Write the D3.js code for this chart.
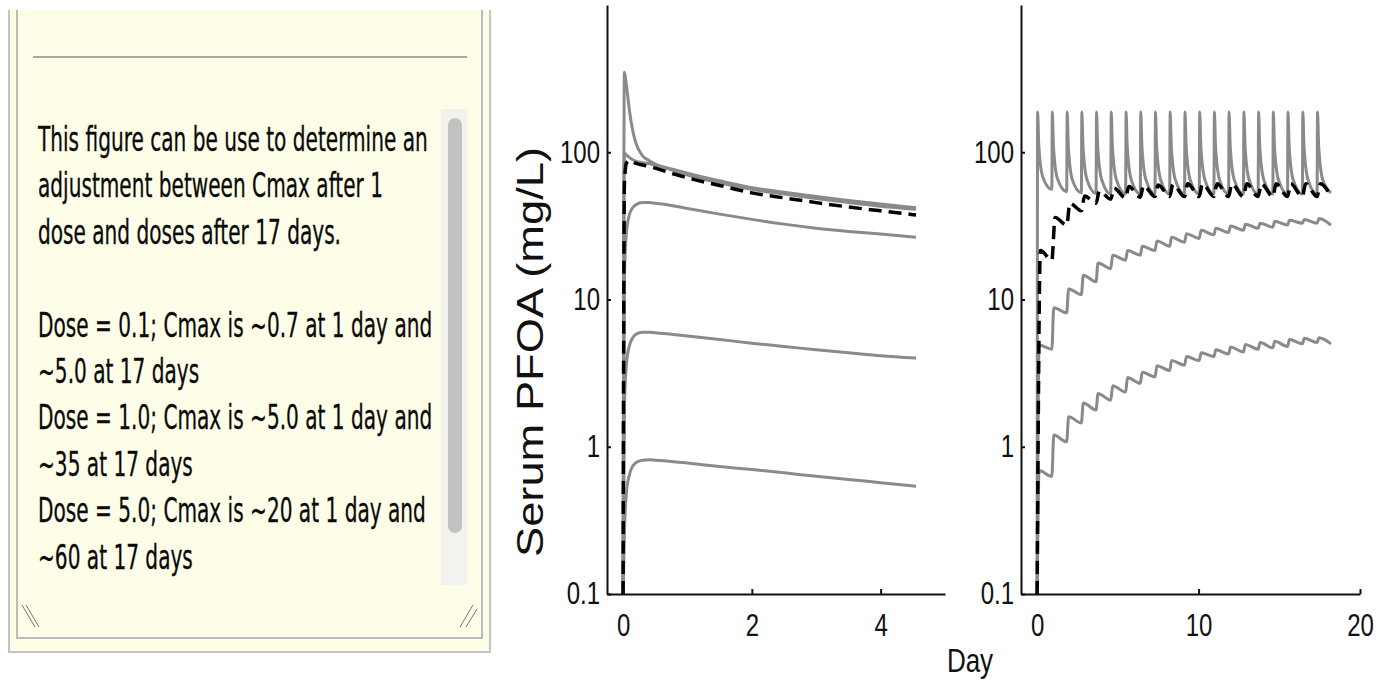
<!DOCTYPE html>
<html>
<head>
<meta charset="utf-8">
<script src="https://cdn.jsdelivr.net/npm/d3@7"></script>
<style>
  body { margin: 0; background: #fff; }
  svg { display: block; }
</style>
</head>
<body>
<svg width="1378" height="681"></svg>
<script>
// ---- note text ----
var noteLines = [
  "This figure can be use to determine an",
  "adjustment between Cmax after 1",
  "dose and doses after 17 days.",
  "",
  "Dose = 0.1; Cmax is ~0.7 at 1 day and",
  "~5.0 at 17 days",
  "Dose = 1.0; Cmax is ~5.0 at 1 day and",
  "~35 at 17 days",
  "Dose = 5.0; Cmax is ~20 at 1 day and",
  "~60 at 17 days"
];

// ---- axes ----
var yTicks = [0.1, 1, 10, 100];
var singleTicks = [0, 2, 4];
var repeatTicks = [0, 10, 20];

// ---- single dose panel (day, mg/L) ----
var singleDays   = [0, 0.02, 0.05, 0.1, 0.15, 0.2, 0.3, 0.4, 0.5, 0.75, 1, 1.5, 2, 2.5, 3, 3.5, 4, 4.55];
var singleSpike  = [0.1, 350, 290, 190, 140, 115, 95, 88, 83, 76, 70, 62, 56, 52, 48.5, 45.5, 43, 41];
var singleHigh   = [0.1, 99, 96, 92, 89, 87, 85, 84, 82, 77, 72, 64, 57.5, 53.5, 50, 47, 44.5, 42];
var singleDash   = [0.1, 60, 84, 88, 86, 84, 82, 80, 78, 72, 67, 59.5, 53, 49, 45.5, 42.5, 40, 37.5];
var singleMid    = [0.1, 14, 28, 38, 42, 44, 45.5, 45.5, 45, 43.5, 41.5, 38, 35, 32.5, 30.5, 29, 27.8, 26.5];
var singleLow    = [0.1, 1.8, 3.6, 4.9, 5.5, 5.8, 6.0, 6.0, 5.95, 5.8, 5.65, 5.35, 5.05, 4.8, 4.55, 4.35, 4.15, 4.0];
var singleLowest = [0.1, 0.25, 0.48, 0.65, 0.74, 0.78, 0.81, 0.815, 0.81, 0.795, 0.775, 0.735, 0.7, 0.665, 0.63, 0.6, 0.57, 0.54];

// ---- repeated dose panel ----
var doseDays = [0, 0.91, 1.83, 2.74, 3.65, 4.56, 5.48, 6.39, 7.30, 8.21, 9.13, 10.04, 10.95, 11.86, 12.78, 13.69, 14.60, 15.51, 16.43, 17.34];
var lastDay = 18.2;

var topPeak     = [188, 188, 188, 188, 188, 188, 188, 188, 188, 188, 188, 188, 188, 188, 188, 188, 188, 188, 188, 188];
var topFall     = [112, 110, 110, 110, 110, 110, 110, 110, 110, 110, 110, 110, 110, 110, 110, 110, 110, 110, 110, 110];
var topShoulder = [68, 66, 65, 65, 65, 65, 65, 65, 65, 65, 65, 65, 65, 65, 65, 65, 65, 65, 65, 65];
var topTrough   = [56, 54, 53, 52.5, 52, 52, 52, 52, 52, 52, 52, 52, 52, 52, 52, 52, 52, 52, 52, 53];

var dashPeak    = [21.5, 36, 45, 50.5, 54.5, 57, 58.5, 59.5, 60, 60.5, 61, 61, 61, 61, 61, 61, 61, 61, 61, 61];
var dashTrough  = [18.5, 32, 40, 45, 48, 49, 49.5, 50, 50, 50, 50, 50, 50, 50, 50, 50, 50, 50, 50, 50];

var midPeak     = [4.9, 8.8, 11.8, 14.6, 17.7, 20, 21.5, 23, 25, 26.5, 28, 29.5, 30.5, 31.5, 32.5, 33, 34, 34.5, 35, 35.5];
var midTrough   = [4.6, 8.1, 10.8, 13.2, 16.2, 18.5, 20, 21.5, 23, 24.5, 26, 27.5, 28.5, 29.5, 30.5, 31, 32, 33, 33, 32];

var lowPeak     = [0.69, 1.2, 1.6, 1.98, 2.3, 2.6, 2.95, 3.2, 3.55, 3.85, 4.1, 4.35, 4.55, 4.75, 4.95, 5.1, 5.2, 5.35, 5.45, 5.5];
var lowTrough   = [0.63, 1.08, 1.45, 1.78, 2.07, 2.35, 2.7, 2.98, 3.3, 3.58, 3.85, 4.1, 4.27, 4.4, 4.6, 4.7, 4.8, 5.0, 5.1, 5.0];

var svg = d3.select("svg");
var axisFont = "'Liberation Sans', Arial, Helvetica, sans-serif";
var gray = "#8a8a8a";

// ---------------- note box ----------------
var note = svg.append("g");
note.append("rect").attr("x", 9).attr("y", 10).attr("width", 481).attr("height", 642).attr("fill", "#fdfde8");
note.append("path").attr("d", "M9,10V652H490V10").attr("fill", "none").attr("stroke", "#c4c4c4").attr("stroke-width", 2);
note.append("path").attr("d", "M17,10V638H482V10").attr("fill", "none").attr("stroke", "#a8a8a8").attr("stroke-width", 1.5);
note.append("line").attr("x1", 33).attr("x2", 467).attr("y1", 57).attr("y2", 57)
    .attr("stroke", "#8c8c8c").attr("stroke-width", 1.5);

// scrollbar
note.append("rect").attr("x", 441).attr("y", 109).attr("width", 26).attr("height", 476).attr("fill", "#f2f2ef");
note.append("rect").attr("x", 448).attr("y", 118).attr("width", 14).attr("height", 415).attr("rx", 7)
    .attr("fill", "#c2c2c2");

// resize grips
var grips = [[22, 605, 35, 627], [26, 605, 39, 627], [473, 605, 460, 627], [477, 609, 466, 627]];
note.selectAll(".grip").data(grips).enter().append("line")
    .attr("x1", function(d) { return d[0]; }).attr("y1", function(d) { return d[1]; })
    .attr("x2", function(d) { return d[2]; }).attr("y2", function(d) { return d[3]; })
    .attr("stroke", "#777").attr("stroke-width", 1);

var textG = note.append("g");
var lines = textG.selectAll("text").data(noteLines).enter().append("text")
    .attr("x", 0)
    .attr("y", function(d, i) { return 151 + i * 46.4; })
    .attr("font-family", "'Liberation Sans Narrow', 'DejaVu Sans Condensed', 'Open Sans', sans-serif")
    .attr("font-size", 33)
    .attr("fill", "#0a0a0a")
    .attr("stroke", "#0a0a0a")
    .attr("stroke-width", 0.3)
    .text(function(d) { return d; });
var firstLen = lines.node().getComputedTextLength();
textG.attr("transform", "translate(38,0) scale(" + (390 / firstLen) + ",1)");

// ---------------- charts ----------------
var y = d3.scaleLog().domain([0.1, 1000]).range([594, 5]);
var xSingle = d3.scaleLinear().domain([-0.25, 5]).range([607, 945]);
var xRepeat = d3.scaleLinear().domain([-1, 20]).range([1021, 1360]);

function zipSeries(days, vals) {
  return days.map(function(d, i) { return [d, vals[i]]; });
}

// repeated dosing: trough before each dose, then the peak shortly after
function repeatSeries(peaks, troughs, lag, falls, shoulders) {
  var pts = [];
  doseDays.forEach(function(t, k) {
    pts.push([t, k === 0 ? 0.1 : troughs[k - 1]]);
    pts.push([t + lag, peaks[k]]);
    if (falls) pts.push([t + 0.1, falls[k]]);
    if (shoulders) pts.push([t + 0.35, shoulders[k]]);
  });
  pts.push([lastDay, troughs[troughs.length - 1]]);
  return pts;
}

function drawLine(x, pts, dashed) {
  var line = d3.line()
      .x(function(d) { return x(d[0]); })
      .y(function(d) { return y(d[1]); })
      .curve(d3.curveMonotoneX);
  svg.append("path")
      .datum(pts)
      .attr("d", line)
      .attr("fill", "none")
      .attr("stroke", dashed ? "#000" : gray)
      .attr("stroke-width", dashed ? 3.5 : 3)
      .attr("stroke-dasharray", dashed ? "13,7" : null)
      .attr("stroke-linejoin", "round");
}

// single dose
[singleLowest, singleLow, singleMid, singleHigh, singleSpike].forEach(function(v) {
  drawLine(xSingle, zipSeries(singleDays, v), false);
});
drawLine(xSingle, zipSeries(singleDays, singleDash), true);

// repeated dose
drawLine(xRepeat, repeatSeries(lowPeak, lowTrough, 0.12), false);
drawLine(xRepeat, repeatSeries(midPeak, midTrough, 0.12), false);
drawLine(xRepeat, repeatSeries(topPeak, topTrough, 0.03, topFall, topShoulder), false);
drawLine(xRepeat, repeatSeries(dashPeak, dashTrough, 0.2), true);

function drawAxes(x, xTicks) {
  var gx = svg.append("g")
      .attr("transform", "translate(0," + y.range()[0] + ")")
      .call(d3.axisBottom(x).tickValues(xTicks).tickSize(-5).tickSizeOuter(0).tickPadding(16)
        .tickFormat(d3.format("d")));
  var gy = svg.append("g")
      .attr("transform", "translate(" + x.range()[0] + ",0)")
      .call(d3.axisLeft(y).tickValues(yTicks).tickSize(-4).tickSizeOuter(0).tickPadding(7)
        .tickFormat(function(d) { return d < 1 ? "0.1" : d3.format("d")(d); }));
  [gx, gy].forEach(function(g) {
    g.select(".domain").attr("stroke", "#111").attr("stroke-width", 2);
    g.selectAll(".tick line").attr("stroke", "#111").attr("stroke-width", 2);
    g.selectAll(".tick text")
        .attr("font-family", axisFont)
        .attr("font-size", 24)
        .attr("fill", "#111")
        .attr("transform", "scale(1,1.28)");
  });
}
drawAxes(xSingle, singleTicks);
drawAxes(xRepeat, repeatTicks);

// axis titles
svg.append("text")
    .attr("transform", "translate(543,352) rotate(-90)")
    .attr("text-anchor", "middle")
    .attr("font-family", axisFont)
    .attr("font-size", 36)
    .attr("textLength", 410)
    .attr("lengthAdjust", "spacingAndGlyphs")
    .attr("fill", "#111")
    .text("Serum PFOA (mg/L)");

svg.append("text")
    .attr("transform", "translate(970,672) scale(1,1.25)")
    .attr("text-anchor", "middle")
    .attr("font-family", axisFont)
    .attr("font-size", 26)
    .attr("fill", "#111")
    .text("Day");
</script>
</body>
</html>
